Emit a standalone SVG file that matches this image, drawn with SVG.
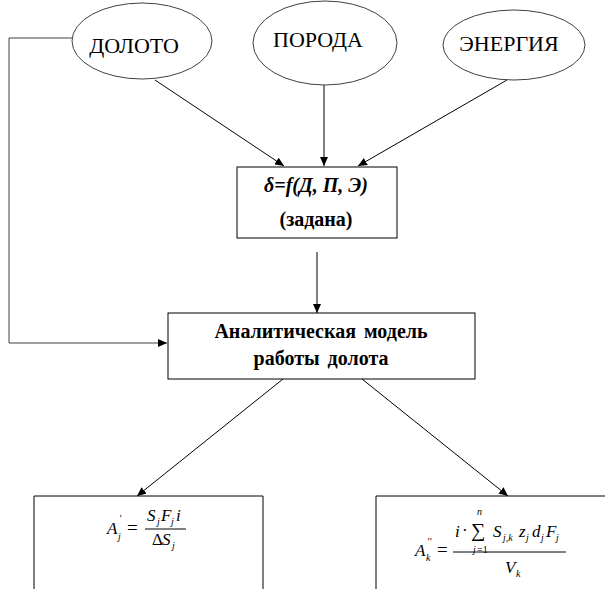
<svg xmlns="http://www.w3.org/2000/svg" width="605" height="589" viewBox="0 0 605 589">
<style>
text{font-family:"Liberation Serif","Tinos","DejaVu Serif","Times New Roman",serif}
.ell{fill:#fff;stroke:#404040;stroke-width:1}
.box{fill:#fff;stroke:#000;stroke-width:1}
.lbl{font-size:22px;fill:#000;text-anchor:middle}
.bt{font-size:20px;font-weight:bold;fill:#000;text-anchor:middle}
.m{font-style:italic;font-size:17px;fill:#000}
.r{font-style:normal}
.s{font-size:10px}
.con{fill:none;stroke:#000;stroke-width:1}
</style>
<defs>
<marker id="ah" markerUnits="userSpaceOnUse" markerWidth="9" markerHeight="8" refX="9" refY="4" orient="auto">
<path d="M0,0 L9,4 L0,8 z" fill="#000"/>
</marker>
</defs>
<g id="connectors">
<polyline class="con" points="72,38 9,38 9,343 167,343" marker-end="url(#ah)" style="stroke:#404040"/>
<line class="con" x1="155" y1="80" x2="284" y2="166" marker-end="url(#ah)"/>
<line class="con" x1="324" y1="85" x2="324" y2="166" marker-end="url(#ah)"/>
<line class="con" x1="507" y1="80" x2="358" y2="166" marker-end="url(#ah)"/>
<line class="con" x1="317" y1="252" x2="317" y2="313" marker-end="url(#ah)"/>
<line class="con" x1="283" y1="379" x2="137" y2="496" marker-end="url(#ah)"/>
<line class="con" x1="362" y1="379" x2="508" y2="496" marker-end="url(#ah)"/>
</g>
<g id="node-doloto">
<ellipse class="ell" cx="142" cy="41" rx="70" ry="38"/>
<text class="lbl" x="134" y="53">ДОЛОТО</text>
</g>
<g id="node-poroda">
<ellipse class="ell" cx="325" cy="43" rx="72" ry="42"/>
<text class="lbl" x="318" y="47">ПОРОДА</text>
</g>
<g id="node-energiya">
<ellipse class="ell" cx="514" cy="45" rx="71" ry="35"/>
<text class="lbl" x="509" y="51">ЭНЕРГИЯ</text>
</g>
<g id="node-delta">
<rect class="box" x="237" y="167" width="160" height="71"/>
<text class="bt" x="316" y="192" font-style="italic">δ=f(Д, П, Э)</text>
<text class="bt" x="316" y="226">(задана)</text>
</g>
<g id="node-model">
<rect class="box" x="168" y="313" width="307" height="66"/>
<text class="bt" x="321" y="338" word-spacing="3">Аналитическая модель</text>
<text class="bt" x="321" y="365" word-spacing="3">работы долота</text>
</g>
<g id="node-formula1">
<polyline class="box" points="34,589 34,496 263,496 263,589"/>
<text class="m"><tspan x="107" y="534">A</tspan><tspan class="s" x="119" y="522">'</tspan><tspan class="s" x="118" y="540" font-size="11">j</tspan><tspan class="r" x="127" y="534" font-size="19">=</tspan><tspan x="147" y="521">S</tspan><tspan class="s" x="157" y="525" font-size="11">j</tspan><tspan x="161" y="521">F</tspan><tspan class="s" x="171" y="525" font-size="11">j</tspan><tspan x="176" y="521">i</tspan><tspan class="r" x="152" y="545">Δ</tspan><tspan x="162" y="545">S</tspan><tspan class="s" x="172" y="549" font-size="11">j</tspan></text>
<line x1="145" y1="529" x2="186" y2="529" stroke="#000" stroke-width="1"/>
</g>
<g id="node-formula2">
<polyline class="box" points="376,589 376,496 605,496"/>
<text class="m"><tspan x="415" y="556">A</tspan><tspan class="s" x="427" y="545">''</tspan><tspan class="s" x="426" y="561" font-size="11">k</tspan><tspan class="r" x="437" y="556" font-size="19">=</tspan><tspan x="455" y="537">i</tspan><tspan class="r" x="462" y="536">·</tspan><tspan class="r" x="471" y="537" font-size="20">∑</tspan><tspan class="s" x="477" y="515">n</tspan><tspan class="s" x="473" y="553" font-size="9">j</tspan><tspan class="s r" x="477" y="553" font-size="9">=1</tspan><tspan x="493" y="537">S</tspan><tspan class="s" x="503" y="541">j,k</tspan><tspan x="519" y="537">z</tspan><tspan class="s" x="526" y="541">j</tspan><tspan x="532" y="537">d</tspan><tspan class="s" x="541" y="541">j</tspan><tspan x="546" y="537">F</tspan><tspan class="s" x="556" y="541">j</tspan><tspan x="505" y="573">V</tspan><tspan class="s" x="516" y="577" font-size="11">k</tspan></text>
<line x1="453" y1="552" x2="566" y2="552" stroke="#000" stroke-width="1"/>
</g>
</svg>
